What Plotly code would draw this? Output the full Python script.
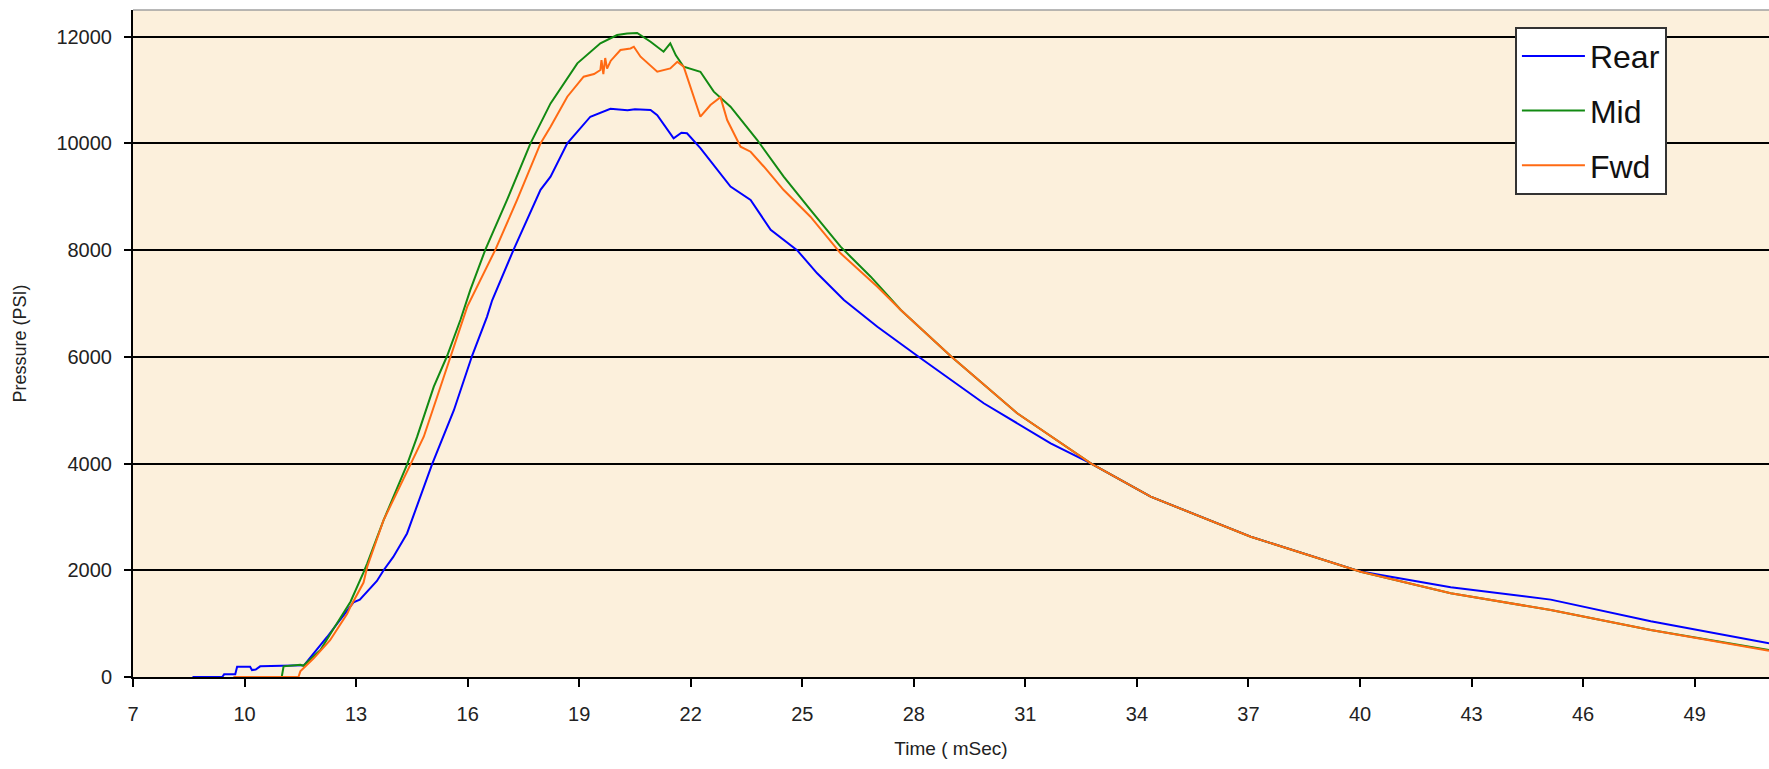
import plotly.graph_objects as go

# ---- data (time in mSec, pressure in PSI) ----
rear_t = [8.6, 9.4, 9.45, 9.75, 9.8, 10.15, 10.2, 10.3, 10.42, 11.6, 11.68, 12.22, 12.6, 12.93,
          13.1, 13.56, 13.74, 14.0, 14.37, 15.04, 15.63, 16.12, 16.52, 16.66, 17.24, 17.96,
          18.23, 18.68, 19.3, 19.84, 20.3, 20.5, 20.92, 21.1, 21.54, 21.75, 21.9, 22.26,
          23.07, 23.61, 24.15, 24.86, 25.4, 26.12, 27.02, 28.1, 29.88, 31.68, 32.76, 34.37,
          37.06, 40.02, 42.44, 45.13, 47.82, 51.0]
rear_p = [0, 0, 50, 50, 190, 190, 130, 140, 200, 220, 290, 750, 1100, 1400,
          1450, 1800, 2000, 2250, 2690, 3980, 5000, 6020, 6750, 7060, 8015, 9130,
          9376, 10000, 10500, 10650, 10620, 10640, 10625, 10530, 10095, 10200, 10190, 9910,
          9190, 8940, 8380, 8000, 7565, 7065, 6565, 6016, 5130, 4380, 4005, 3380,
          2630, 1975, 1680, 1450, 1045, 630]

mid_t = [9.8, 11.0, 11.05, 11.5, 11.58, 12.04, 12.39, 12.85, 13.2, 13.3, 13.74, 14.37, 14.64,
         15.09, 15.45, 15.81, 16.07, 16.48, 17.06, 17.69, 18.23, 18.95, 19.57, 20.02, 20.29,
         20.56, 20.92, 21.27, 21.45, 21.6, 21.81, 22.26, 22.62, 23.07, 23.79, 24.5, 25.22,
         26.03, 26.3, 26.84, 27.65, 28.99, 30.78, 32.76, 34.37, 37.06, 40.02, 42.44, 45.13,
         47.82, 51.0]
mid_p = [0, 0, 200, 230, 210, 505, 900, 1410, 1960, 2130, 2940, 3980, 4500,
         5440, 6020, 6700, 7250, 8015, 8940, 10000, 10750, 11500, 11875, 12030, 12060,
         12070, 11905, 11718, 11875, 11650, 11437, 11343, 10970, 10688, 10063, 9376, 8752,
         8064, 7877, 7502, 6878, 6016, 4942, 4005, 3379, 2629, 1973, 1568, 1256,
         881, 506]

fwd_t = [9.7, 11.45, 11.5, 11.86, 12.3, 12.76, 12.85, 13.2, 13.3, 13.74, 14.46, 14.82, 15.27,
         15.54, 15.99, 16.75, 17.33, 17.96, 18.23, 18.68, 19.12, 19.4, 19.57, 19.6, 19.65,
         19.7, 19.75, 19.85, 20.11, 20.38, 20.47, 20.65, 21.1, 21.45, 21.64, 21.81, 21.99,
         22.26, 22.53, 22.8, 22.98, 23.34, 23.61, 23.97, 24.5, 25.22, 26.03, 27.02, 27.65,
         28.99, 30.78, 32.76, 34.37, 37.06, 40.02, 42.44, 45.13, 47.82, 51.0]
fwd_p = [0, 0, 105, 350, 690, 1184, 1318, 1770, 2067, 2942, 3979, 4503, 5440,
         6016, 6940, 8015, 8940, 10000, 10313, 10875, 11250, 11300, 11375, 11560, 11300,
         11600, 11400, 11550, 11750, 11780, 11812, 11625, 11343, 11406, 11530, 11437, 11062,
         10500, 10720, 10864, 10438, 9938, 9844, 9563, 9126, 8626, 7940, 7314, 6878,
         6016, 4942, 4005, 3379, 2629, 1973, 1568, 1256, 881, 490]

x_ticks = [7, 10, 13, 16, 19, 22, 25, 28, 31, 34, 37, 40, 43, 46, 49]
y_ticks = [0, 2000, 4000, 6000, 8000, 10000, 12000]

series = [
    ("Rear", rear_t, rear_p, "#0000FF"),
    ("Mid", mid_t, mid_p, "#128A12"),
    ("Fwd", fwd_t, fwd_p, "#FF6A13"),
]

FONT = "Liberation Sans, Arial, sans-serif"

fig = go.Figure()
for name, t, p, col in series:
    fig.add_trace(go.Scatter(x=t, y=p, mode="lines", name=name, legendgroup=name,
                             line=dict(color=col, width=2)))

fig.update_layout(
    width=1769, height=769,
    margin=dict(l=133, r=0, t=10, b=92),
    paper_bgcolor="white",
    plot_bgcolor="#FCF0DC",
    font=dict(family=FONT, color="#222222"),
    showlegend=True,
    legend=dict(
        x=0.8447, y=0.975, xanchor="left", yanchor="top",
        bgcolor="white", bordercolor="#333333", borderwidth=2,
        font=dict(family=FONT, size=32, color="#111111"),
        tracegroupgap=10,
        traceorder="grouped",
        itemwidth=63,
    ),
    xaxis=dict(
        range=[7, 51], tickmode="array", tickvals=x_ticks,
        ticktext=[str(v) for v in x_ticks],
        showgrid=False, zeroline=False,
        showline=True, linecolor="black", linewidth=2,
        ticks="outside", ticklen=8, tickwidth=1.5, tickcolor="black",
        tickfont=dict(size=20, family=FONT, color="#222222"),
        ticklabelstandoff=10,
        title=dict(text="Time ( mSec)", font=dict(size=19, family=FONT, color="#222222"),
                   standoff=18),
    ),
    yaxis=dict(
        range=[0, 12500], tickmode="array", tickvals=y_ticks,
        ticktext=[str(v) for v in y_ticks],
        showgrid=True, gridcolor="black", gridwidth=2,
        zeroline=False,
        showline=True, linecolor="black", linewidth=2,
        ticks="outside", ticklen=7, tickwidth=1.5, tickcolor="black",
        tickfont=dict(size=20, family=FONT, color="#222222"),
        ticklabelstandoff=8,
        title=dict(text="Pressure (PSI)", font=dict(size=18, family=FONT, color="#222222"),
                   standoff=25),
    ),
    shapes=[dict(type="line", xref="paper", yref="paper", x0=0, x1=1, y0=1, y1=1,
                 line=dict(color="#A0A0A0", width=1.5))],
)

fig.write_html("out.html")
